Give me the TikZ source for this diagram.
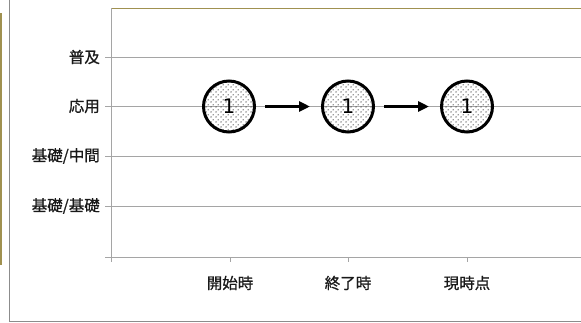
\documentclass[tikz,border=0pt]{standalone}
\usepackage{fontspec}
\newfontfamily\cjk[FakeBold=0.8]{Noto Sans CJK JP}
\newfontfamily\numfont{DejaVu Sans}
\usetikzlibrary{patterns,arrows.meta}
\pgfdeclarepatternformonly{sparsedots}{\pgfpointorigin}{\pgfpoint{5pt}{5pt}}{\pgfpoint{5pt}{5pt}}{%
  \pgfpathcircle{\pgfpoint{1.25pt}{1.25pt}}{0.75pt}%
  \pgfpathcircle{\pgfpoint{3.75pt}{3.75pt}}{0.75pt}%
  \pgfusepath{fill}}
\definecolor{olive}{RGB}{160,145,80}
\definecolor{grid}{RGB}{165,165,165}
\definecolor{frame}{RGB}{140,140,140}
\tikzset{
  gridline/.style={draw=grid, line width=0.9pt},
  lab/.style={font=\cjk\fontsize{15.5}{16}\selectfont, inner sep=0pt, text=black!90},
  stage/.style={circle, minimum size=51pt, inner sep=0pt, line width=3pt, draw=black,
    pattern=sparsedots, pattern color=black!80, font=\numfont\fontsize{20}{20}\selectfont},
  flow/.style={line width=3pt, -{Triangle[length=11pt,width=10pt]}, shorten <=9pt, shorten >=11pt}
}
\begin{document}
\begin{tikzpicture}[x=1pt,y=-1pt]
\useasboundingbox (0,0) rectangle (581,322);
\fill[white] (0,0) rectangle (581,322);
% outer frame
\draw[frame, line width=0.9pt] (9,-2) -- (9,321) -- (583,321);
\draw[olive, line width=1.2pt] (1,13) -- (1,265);
% plot area
\draw[olive, line width=0.9pt] (111,8) -- (583,8);
\foreach \y in {57,106,156,206}{\draw[gridline] (105,\y) -- (583,\y);}
\draw[gridline] (105,257) -- (583,257);
\draw[gridline] (111,8) -- (111,262);
\foreach \x in {230,348,467}{\draw[gridline] (\x,257) -- (\x,262);}
% y labels
\node[lab, anchor=east] (l1) at (100,57) {普及};
\node[lab, anchor=east] (l2) at (100,106) {応用};
\node[lab, anchor=east] (l3) at (100,156) {基礎/中間};
\node[lab, anchor=east] (l4) at (100,206) {基礎/基礎};
% x labels
\node[lab] (t1) at (230,283) {開始時};
\node[lab] (t2) at (348,283) {終了時};
\node[lab] (t3) at (467,283) {現時点};
% stages
\node[stage] (c1) at (229,106.5) {1};
\node[stage] (c2) at (348,106.5) {1};
\node[stage] (c3) at (467,106.5) {1};
\draw[flow] (c1) -- (c2);
\draw[flow] (c2) -- (c3);
\end{tikzpicture}
\end{document}
